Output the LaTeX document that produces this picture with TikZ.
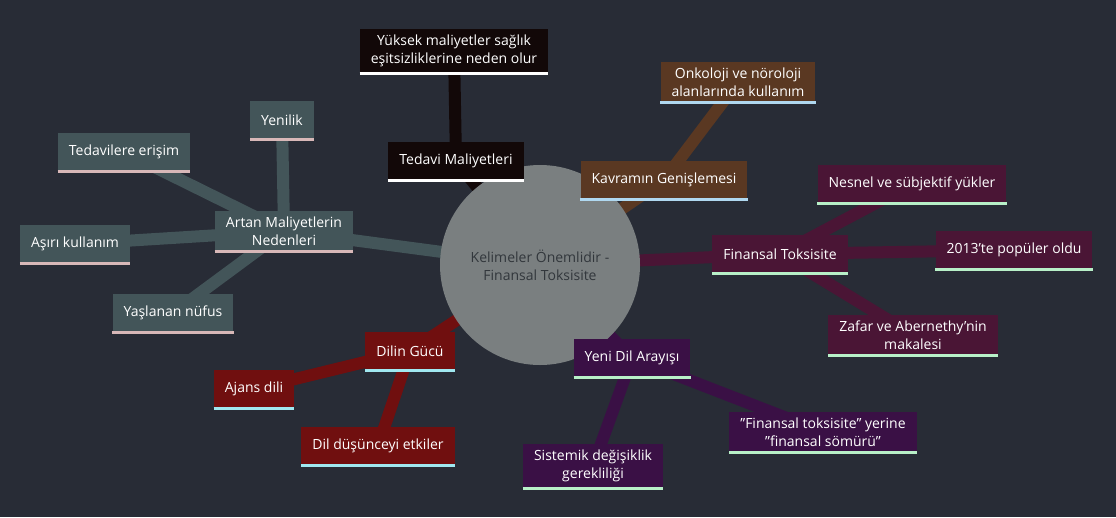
\documentclass[tikz,border=0pt]{standalone}
\usepackage{fontspec}
\setmainfont{Open Sans}
\begin{document}
\begin{tikzpicture}[x=1pt,y=-1pt,
 box/.style={fill=#1,text=white,inner xsep=11pt,inner ysep=6pt,minimum height=39pt,align=center,font=\fontsize{14}{18}\selectfont},
 edge/.style={draw=#1,line width=12pt}]
\definecolor{bg}{HTML}{282C36}
\definecolor{cblack}{HTML}{120808}
\definecolor{cbrown}{HTML}{5A3822}
\definecolor{cmaroon}{HTML}{4A1535}
\definecolor{cpurple}{HTML}{3A1045}
\definecolor{cred}{HTML}{700F0F}
\definecolor{cslate}{HTML}{435559}
\definecolor{lblue}{HTML}{B0D8F0}
\definecolor{lgreen}{HTML}{B8F0C8}
\definecolor{lcyan}{HTML}{A0E8F0}
\definecolor{lpink}{HTML}{D8B8B8}
\fill[bg] (0,0) rectangle (1116,517);
\useasboundingbox (0,0) rectangle (1116,517);
\coordinate (c) at (540,265);
% nodes
\node[box=cblack] (ym) at (454,51) {Yüksek maliyetler sağlık\\eşitsizliklerine neden olur};
\node[box=cblack] (tm) at (456,161) {Tedavi Maliyetleri};
\node[box=cbrown] (kg) at (664,180) {Kavramın Genişlemesi};
\node[box=cbrown] (on) at (738,82) {Onkoloji ve nöroloji\\alanlarında kullanım};
\node[box=cmaroon] (ft) at (780,254) {Finansal Toksisite};
\node[box=cmaroon] (ns) at (912,184) {Nesnel ve sübjektif yükler};
\node[box=cmaroon] (p13) at (1014,250) {2013'te popüler oldu};
\node[box=cmaroon] (za) at (913,335) {Zafar ve Abernethy'nin\\makalesi};
\node[box=cpurple] (yd) at (632,358) {Yeni Dil Arayışı};
\node[box=cpurple] (fs) at (823,432) {"Finansal toksisite" yerine\\"finansal sömürü"};
\node[box=cpurple] (sd) at (593,466) {Sistemik değişiklik\\gerekliliği};
\node[box=cred] (dg) at (410,351) {Dilin Gücü};
\node[box=cred] (aj) at (254,389) {Ajans dili};
\node[box=cred] (dd) at (378,446) {Dil düşünceyi etkiler};
\node[box=cslate] (am) at (284,231) {Artan Maliyetlerin\\Nedenleri};
\node[box=cslate] (ye) at (282,120) {Yenilik};
\node[box=cslate] (te) at (124,152) {Tedavilere erişim};
\node[box=cslate] (ak) at (75,244) {Aşırı kullanım};
\node[box=cslate] (yn) at (173,313) {Yaşlanan nüfus};
% edges
\begin{scope}[on background layer/.style={}]
\end{scope}
\begin{pgfinterruptboundingbox}\end{pgfinterruptboundingbox}
\fill[bg] (0,0) rectangle (1116,517);
\draw[edge=cblack] (c) -- (tm.center) (tm.center) -- (ym.center);
\draw[edge=cbrown] (c) -- (kg.center) (kg.center) -- (on.center);
\draw[edge=cmaroon] (c) -- (ft.center) (ft.center) -- (ns.center) (ft.center) -- (p13.center) (ft.center) -- (za.center);
\draw[edge=cpurple] (c) -- (yd.center) (yd.center) -- (fs.center) (yd.center) -- (sd.center);
\draw[edge=cred] (c) -- (dg.center) (dg.center) -- (aj.center) (dg.center) -- (dd.center);
\draw[edge=cslate] (c) -- (am.center) (am.center) -- (ye.center) (am.center) -- (te.center) (am.center) -- (ak.center) (am.center) -- (yn.center);
\fill[fill={rgb,255:red,122;green,127;blue,128}] (c) circle (100);
\node[text={rgb,255:red,50;green,55;blue,60},align=center,font=\fontsize{14}{18}\selectfont] (ctr) at (c) {Kelimeler Önemlidir -\\Finansal Toksisite};
% redraw boxes on top
\foreach \n/\t/\col/\l/\pos in {
 ym/{Yüksek maliyetler sağlık\\eşitsizliklerine neden olur}/cblack/white/{454,51},
 tm/{Tedavi Maliyetleri}/cblack/white/{456,161},
 kg/{Kavramın Genişlemesi}/cbrown/lblue/{664,180},
 on/{Onkoloji ve nöroloji\\alanlarında kullanım}/cbrown/lblue/{738,82},
 ft/{Finansal Toksisite}/cmaroon/lgreen/{780,254},
 ns/{Nesnel ve sübjektif yükler}/cmaroon/lgreen/{912,184},
 p13/{2013'te popüler oldu}/cmaroon/lgreen/{1014,250},
 za/{Zafar ve Abernethy'nin\\makalesi}/cmaroon/lgreen/{913,335},
 yd/{Yeni Dil Arayışı}/cpurple/lgreen/{632,358},
 fs/{"Finansal toksisite" yerine\\"finansal sömürü"}/cpurple/lgreen/{823,432},
 sd/{Sistemik değişiklik\\gerekliliği}/cpurple/lgreen/{593,466},
 dg/{Dilin Gücü}/cred/lcyan/{410,351},
 aj/{Ajans dili}/cred/lcyan/{254,389},
 dd/{Dil düşünceyi etkiler}/cred/lcyan/{378,446},
 am/{Artan Maliyetlerin\\Nedenleri}/cslate/lpink/{284,231},
 ye/{Yenilik}/cslate/lpink/{282,120},
 te/{Tedavilere erişim}/cslate/lpink/{124,152},
 ak/{Aşırı kullanım}/cslate/lpink/{75,244},
 yn/{Yaşlanan nüfus}/cslate/lpink/{173,313}}{
 \node[box=\col] (\n b) at (\pos) {\t};
 \draw[\l,line width=3pt] (\n b.south west) -- (\n b.south east);
}
\end{tikzpicture}
\end{document}
